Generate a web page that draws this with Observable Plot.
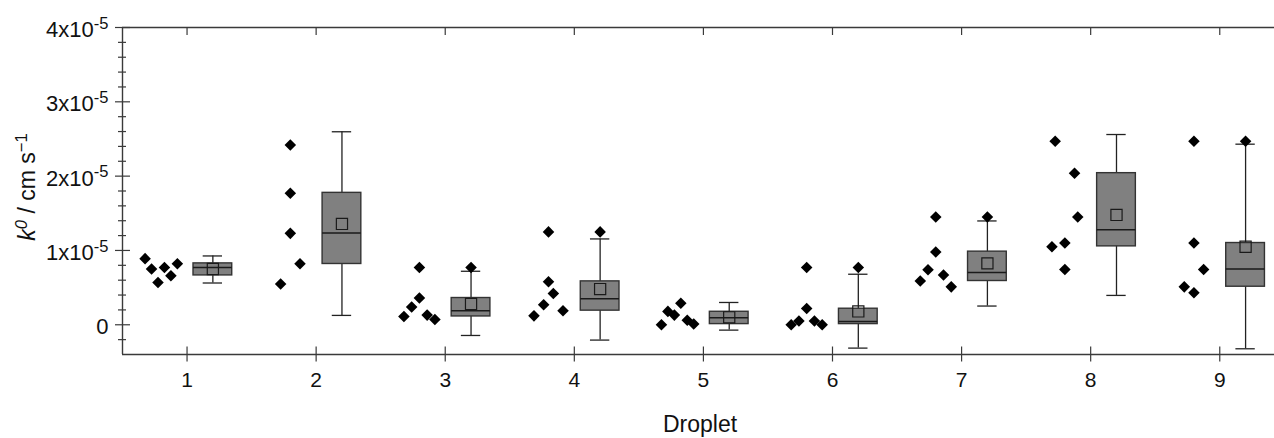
<!DOCTYPE html>
<html>
<head>
<meta charset="utf-8">
<script src="https://cdn.jsdelivr.net/npm/d3@7"></script>
<script src="https://cdn.jsdelivr.net/npm/@observablehq/plot@0.6"></script>
<style>
  html, body { margin: 0; padding: 0; background: #fff; }
</style>
</head>
<body>
<div id="chart"></div>
<script>
// ---- data (k0 values in units of 1e-5 cm s^-1) ----
const droplets = [1, 2, 3, 4, 5, 6, 7, 8, 9];

// individual measurements per droplet, in measurement order
const drop1 = [0.89, 0.75, 0.57, 0.77, 0.66, 0.82];
const drop2 = [0.55, 2.42, 1.77, 1.23, 0.82];
const drop3 = [0.11, 0.24, 0.36, 0.77, 0.13, 0.07];
const drop4 = [0.12, 0.27, 0.58, 1.25, 0.42, 0.19];
const drop5 = [0.00, 0.18, 0.13, 0.29, 0.06, 0.01];
const drop6 = [0.00, 0.05, 0.22, 0.77, 0.05, 0.00];
const drop7 = [0.59, 0.74, 0.98, 1.45, 0.67, 0.51];
const drop8 = [1.05, 2.47, 1.10, 0.745, 2.04, 1.45];
const drop9 = [0.51, 0.43, 1.10, 2.47, 0.745];

// box statistics per droplet
const boxQ1       = [0.664, 0.818, 0.112, 0.19, 0.009, 0.009, 0.589, 1.055, 0.512];
const boxMedian   = [0.772, 1.236, 0.19, 0.35, 0.094, 0.045, 0.705, 1.28, 0.75];
const boxQ3       = [0.826, 1.775, 0.36, 0.584, 0.175, 0.216, 0.984, 2.04, 1.10];
const boxMean     = [0.75, 1.357, 0.28, 0.48, 0.10, 0.18, 0.826, 1.478, 1.05];
const whiskerLow  = [0.562, 0.126, -0.144, -0.206, -0.072, -0.314, 0.252, 0.395, -0.323];
const whiskerHigh = [0.926, 2.597, 0.72, 1.155, 0.30, 0.68, 1.397, 2.56, 2.43];

// axis ticks and labels
const yMajorTicks = [0, 1, 2, 3, 4];
const yLabel = "k0 / cm s-1";
const xLabel = "Droplet";

// ---- layout constants ----
const pointCenter = -0.2, pointSpread = 0.3, binWidth = 0.5;
const boxCenter = 0.2, boxHalf = 0.15, capHalf = 0.075;
const yMinorTicks = d3.range(-2, 40, 2).map(d => d / 10).filter(d => d % 1 !== 0);

const allDrops = [drop1, drop2, drop3, drop4, drop5, drop6, drop7, drop8, drop9];

const stats = droplets.map((d, i) => ({
  droplet: d, q1: boxQ1[i], median: boxMedian[i], q3: boxQ3[i],
  mean: boxMean[i], lo: whiskerLow[i], hi: whiskerHigh[i]
}));

// points placed side by side when they fall in the same value bin
const points = [];
allDrops.forEach((arr, g) => {
  const bins = d3.group(arr, v => Math.floor(v / binWidth));
  for (const [, members] of bins) {
    const n = members.length;
    members.forEach((v, j) => points.push({
      droplet: droplets[g], value: v,
      offset: pointCenter + (j - (n - 1) / 2) * pointSpread / n
    }));
  }
});
const outliers = points.filter(p => {
  const s = stats[p.droplet - 1];
  return p.value > s.hi || p.value < s.lo;
});

const axisColor = "#3a3a3a";
const yFormat = d => d === 0 ? "0" : `${d}x10-5`;

const chart = Plot.plot({
  width: 1274,
  height: 438,
  marginLeft: 122,
  marginRight: 0,
  marginTop: 27,
  marginBottom: 84,
  x: {domain: [0.5, 9.424]},
  y: {domain: [-0.4, 4]},
  style: {fontFamily: "'Liberation Sans', Arial, sans-serif", background: "#fff", color: "#111"},
  marks: [
    // whiskers and caps
    Plot.ruleX(stats, {x: d => d.droplet + boxCenter, y1: "lo", y2: "hi", stroke: "#222", strokeWidth: 1.3}),
    Plot.ruleY(stats, {y: "lo", x1: d => d.droplet + boxCenter - capHalf, x2: d => d.droplet + boxCenter + capHalf, stroke: "#222", strokeWidth: 1.3}),
    Plot.ruleY(stats, {y: "hi", x1: d => d.droplet + boxCenter - capHalf, x2: d => d.droplet + boxCenter + capHalf, stroke: "#222", strokeWidth: 1.3}),
    // boxes
    Plot.rect(stats, {x1: d => d.droplet + boxCenter - boxHalf, x2: d => d.droplet + boxCenter + boxHalf, y1: "q1", y2: "q3", fill: "#808080", stroke: "#333", strokeWidth: 1.4}),
    Plot.ruleY(stats, {y: "median", x1: d => d.droplet + boxCenter - boxHalf, x2: d => d.droplet + boxCenter + boxHalf, stroke: "#1a1a1a", strokeWidth: 1.5}),
    Plot.dot(stats, {x: d => d.droplet + boxCenter, y: "mean", symbol: "square", r: 6.3, fill: "none", stroke: "#1a1a1a", strokeWidth: 1.2}),
    // individual points and outliers
    Plot.dot(points, {x: d => d.droplet + d.offset, y: "value", symbol: "diamond2", r: 5.2, fill: "#000", stroke: "none"}),
    Plot.dot(outliers, {x: d => d.droplet + boxCenter, y: "value", symbol: "diamond2", r: 5.2, fill: "#000", stroke: "none"}),
    // axis lines
    Plot.ruleX([0.5], {stroke: axisColor, strokeWidth: 1.4}),
    Plot.ruleY([-0.4], {stroke: axisColor, strokeWidth: 1.4}),
    Plot.ruleY([4], {stroke: axisColor, strokeWidth: 1.4}),
    // ticks crossing the axes
    Plot.ruleY(yMinorTicks, {y: d => d, x1: 0.5, x2: 0.5, insetLeft: -4, insetRight: -4, stroke: axisColor, strokeWidth: 1.2}),
    Plot.ruleY(yMajorTicks, {y: d => d, x1: 0.5, x2: 0.5, insetLeft: -7, insetRight: -8, stroke: axisColor, strokeWidth: 1.2}),
    Plot.ruleX(droplets, {x: d => d, y1: -0.4, y2: -0.4, insetTop: -7.5, insetBottom: -7.5, stroke: axisColor, strokeWidth: 1.2}),
    Plot.ruleX(droplets, {x: d => d, y1: 4, y2: 4, insetBottom: -8, stroke: axisColor, strokeWidth: 1.2}),
    // tick labels
    Plot.axisY(yMajorTicks, {tickSize: 0, tickPadding: 14, dy: 2.5, tickFormat: yFormat, fontSize: 22, label: null, fill: "#111"}),
    Plot.axisX(droplets, {tickSize: 0, tickPadding: 18, tickFormat: d => `${d}`, fontSize: 21, label: null, fill: "#111"}),
    // axis titles
    Plot.text([yLabel], {frameAnchor: "left", dx: -94.5, dy: -4, rotate: -90, textAnchor: "middle", lineAnchor: "middle", fontSize: 23, fill: "#111"}),
    Plot.text([xLabel], {frameAnchor: "bottom", dx: 1.5, dy: 77.7, textAnchor: "middle", lineAnchor: "bottom", fontSize: 23, fill: "#111"})
  ]
});

document.getElementById("chart").appendChild(chart);

// superscripts in labels
const svg = d3.select(chart);
svg.selectAll("text").each(function () {
  const t = d3.select(this);
  const s = this.textContent;
  const m = /^(\d)x10(-\d)$/.exec(s);
  if (m) {
    t.text(null);
    t.append("tspan").text(`${m[1]}x10`);
    t.append("tspan").attr("dy", "-0.5em").attr("font-size", "0.75em").text(m[2]);
  } else if (s === yLabel) {
    t.text(null);
    t.append("tspan").attr("font-style", "italic").text("k");
    t.append("tspan").attr("font-style", "italic").attr("dy", "-0.5em").attr("font-size", "0.72em").text("0");
    t.append("tspan").attr("dy", "0.36em").text(" / cm s");
    t.append("tspan").attr("dy", "-0.5em").attr("font-size", "0.72em").text("\u22121");
  }
});
</script>
</body>
</html>
